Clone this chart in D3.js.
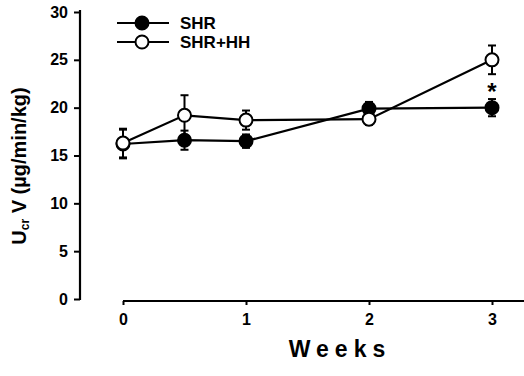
<!DOCTYPE html>
<html>
<head>
<meta charset="utf-8">
<script src="https://cdn.jsdelivr.net/npm/d3@7"></script>
<style>
  body { margin: 0; background: #fff; }
  svg { display: block; font-family: 'Liberation Sans', Arial, sans-serif; }
</style>
</head>
<body>
<svg id="chart" width="524" height="376"></svg>
<script>
// data
const weeks = [0, 0.5, 1, 2, 3];
const shrMean = [16.2, 16.6, 16.5, 19.9, 20.0];
const shrErr = [1.5, 1.0, 0.7, 0.7, 0.9];
const hhMean = [16.3, 19.2, 18.7, 18.8, 25.0];
const hhErr = [1.5, 2.1, 1.0, 0.6, 1.5];
const yTicks = [0, 5, 10, 15, 20, 25, 30];
const xTicks = [0, 1, 2, 3];
const seriesNames = ['SHR', 'SHR+HH'];

const svg = d3.select('#chart');

const x = d3.scaleLinear().domain([0, 3]).range([123, 492]);
const y = d3.scaleLinear().domain([0, 30]).range([299, 12]);

// y axis (offset from x axis)
const yAxis = svg.append('g')
  .attr('transform', 'translate(80,0)')
  .call(d3.axisLeft(y).tickValues(yTicks).tickFormat(d3.format('d')).tickSize(6).tickPadding(6));
yAxis.select('.domain').attr('d', `M0,${y(30) - 2}V${y(0) + 1}`).attr('stroke-width', 2.2);
yAxis.selectAll('.tick line').attr('stroke-width', 2);
yAxis.selectAll('.tick text')
  .attr('font-size', 16).attr('font-weight', 'bold').attr('fill', '#000');

// x axis
const xAxis = svg.append('g')
  .attr('transform', 'translate(0,301)')
  .call(d3.axisBottom(x).tickValues(xTicks).tickFormat(d3.format('d')).tickSize(4).tickPadding(9));
xAxis.select('.domain').attr('d', `M${x(0)},0H524`).attr('stroke-width', 2.2);
xAxis.selectAll('.tick line').attr('stroke-width', 2);
xAxis.selectAll('.tick text')
  .attr('font-size', 16).attr('font-weight', 'bold').attr('fill', '#000');

// axis titles
svg.append('text')
  .attr('x', 340).attr('y', 357)
  .attr('text-anchor', 'middle')
  .attr('font-size', 23).attr('font-weight', 'bold')
  .attr('letter-spacing', 6)
  .text('Weeks');

const yTitle = svg.append('text')
  .attr('transform', 'translate(26,166) rotate(-90)')
  .attr('text-anchor', 'middle')
  .attr('font-size', 20).attr('font-weight', 'bold');
yTitle.append('tspan').text('U');
yTitle.append('tspan').attr('font-size', 12).attr('dy', 3).text('cr');
yTitle.append('tspan').attr('dy', -3).text(' V (µg/min/kg)');

// series
const series = [
  { name: seriesNames[0], mean: shrMean, err: shrErr, fill: '#000' },
  { name: seriesNames[1], mean: hhMean, err: hhErr, fill: '#fff' }
];

const line = d3.line().x(d => x(d.w)).y(d => y(d.m));

series.forEach(s => {
  const pts = weeks.map((w, i) => ({ w, m: s.mean[i], e: s.err[i] }));
  const g = svg.append('g');
  g.append('path').datum(pts)
    .attr('d', line).attr('fill', 'none')
    .attr('stroke', '#000').attr('stroke-width', 2.2);
  const eb = g.selectAll('.eb').data(pts).enter().append('g');
  eb.append('line')
    .attr('x1', d => x(d.w)).attr('x2', d => x(d.w))
    .attr('y1', d => y(d.m - d.e)).attr('y2', d => y(d.m + d.e))
    .attr('stroke', '#000').attr('stroke-width', 2);
  eb.append('line')
    .attr('x1', d => x(d.w) - 4).attr('x2', d => x(d.w) + 4)
    .attr('y1', d => y(d.m + d.e)).attr('y2', d => y(d.m + d.e))
    .attr('stroke', '#000').attr('stroke-width', 2);
  eb.append('line')
    .attr('x1', d => x(d.w) - 4).attr('x2', d => x(d.w) + 4)
    .attr('y1', d => y(d.m - d.e)).attr('y2', d => y(d.m - d.e))
    .attr('stroke', '#000').attr('stroke-width', 2);
  g.selectAll('circle').data(pts).enter().append('circle')
    .attr('cx', d => x(d.w)).attr('cy', d => y(d.m)).attr('r', 6.5)
    .attr('fill', s.fill).attr('stroke', '#000').attr('stroke-width', 2);
});

// significance marker
svg.append('text')
  .attr('x', x(3)).attr('y', y(hhMean[4] - hhErr[4]) + 26)
  .attr('text-anchor', 'middle')
  .attr('font-size', 24).attr('font-weight', 'bold')
  .text('*');

// legend
const legend = svg.append('g');
series.forEach((s, i) => {
  const ly = 23 + i * 19;
  legend.append('line')
    .attr('x1', 117).attr('x2', 169).attr('y1', ly).attr('y2', ly)
    .attr('stroke', '#000').attr('stroke-width', 2.2);
  legend.append('circle')
    .attr('cx', 142).attr('cy', ly).attr('r', 6.5)
    .attr('fill', s.fill).attr('stroke', '#000').attr('stroke-width', 2);
  legend.append('text')
    .attr('x', 180).attr('y', ly + 6)
    .attr('font-size', 17).attr('font-weight', 'bold')
    .text(s.name);
});
</script>
</body>
</html>
